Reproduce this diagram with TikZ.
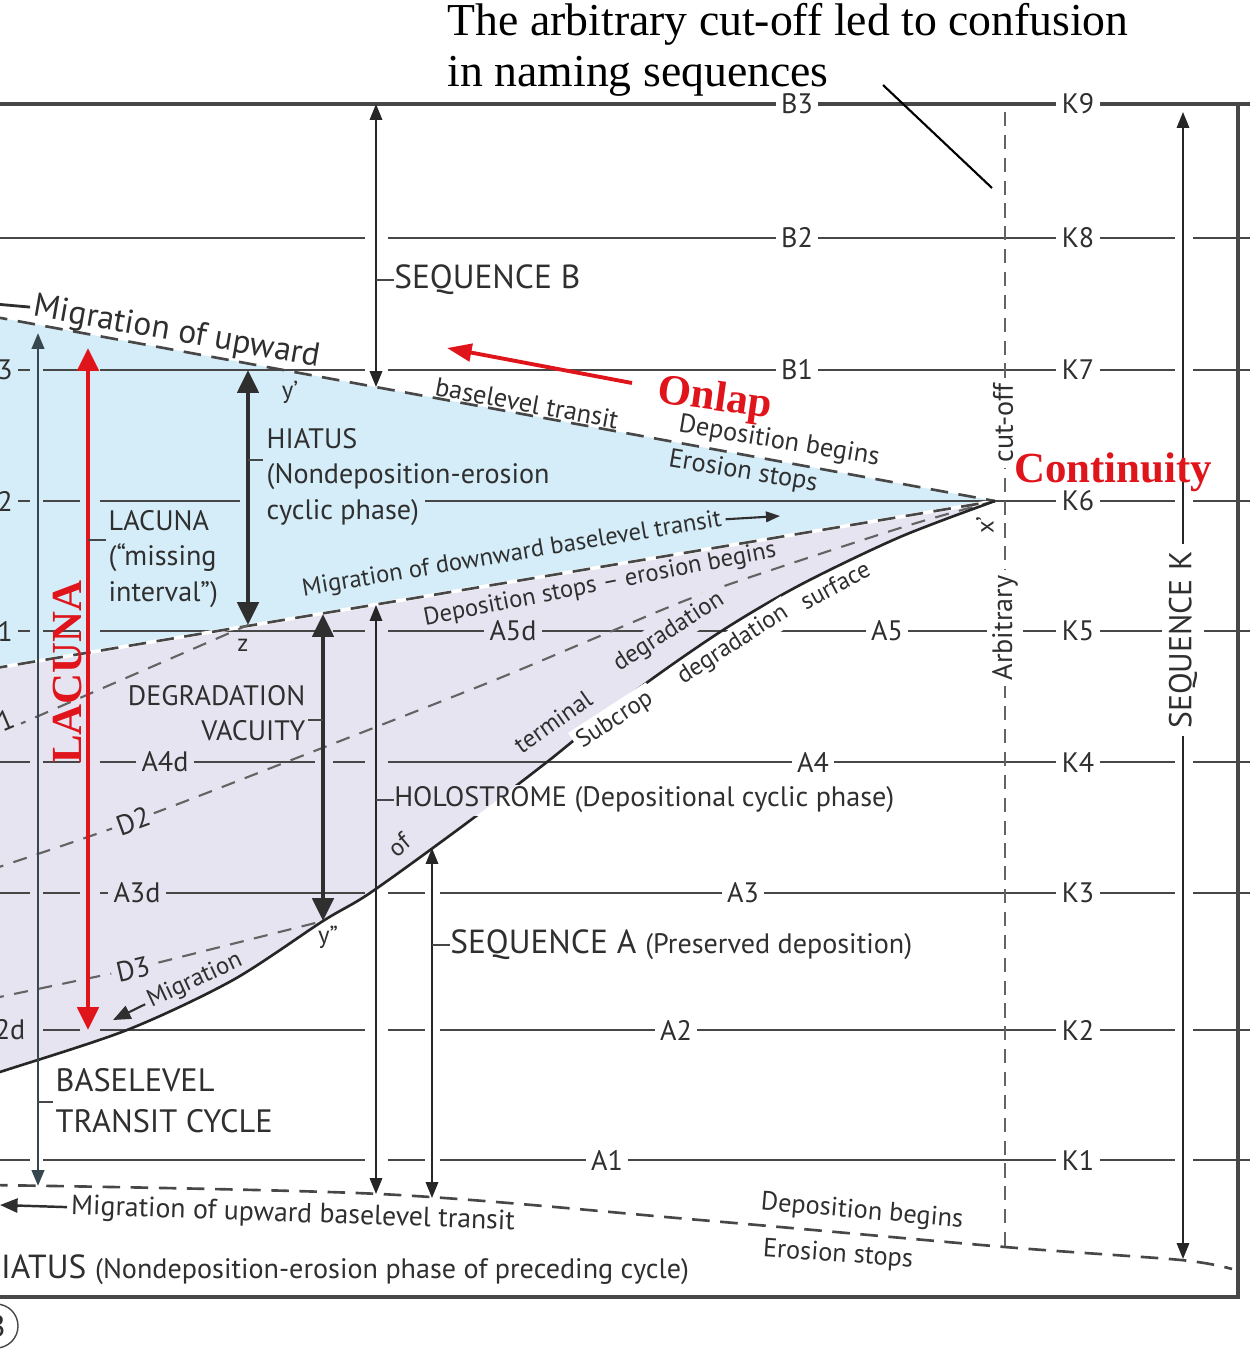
\documentclass[tikz,border=0pt]{standalone}
\usepackage{fontspec}
\setmainfont{Liberation Serif}
\newfontfamily\ptsans{PT Sans}
\usepackage{tikz}
\usetikzlibrary{arrows.meta}
\usetikzlibrary{calc,positioning}
\definecolor{hiablue}{HTML}{D5EDF8}
\definecolor{degviolet}{HTML}{E7E4F1}
\definecolor{lngray}{HTML}{474747}
\definecolor{txtgray}{HTML}{2F2F2F}
\definecolor{slate}{HTML}{36474F}
\definecolor{onred}{HTML}{E0141B}
\def\LblFont{\ptsans\fontsize{8}{9}\selectfont}
\def\TxtFont{\ptsans\fontsize{8}{10}\selectfont}
\def\SmlFont{\ptsans\fontsize{7}{8}\selectfont}
\def\SeqFont{\ptsans\fontsize{9.5}{11}\selectfont}
\newcommand\hseg[2]{\foreach \xa/\xb in {#2}{\draw[hline] (\xa,#1) -- (\xb,#1);}}
\tikzset{
	hline/.style={draw=lngray,line width=0.65pt},
	bound/.style={draw=lngray,line width=0.75pt,dash pattern=on 5pt off 3pt},
	dline/.style={draw=lngray!85,line width=0.6pt,dash pattern=on 4pt off 3pt},
	subc/.style={draw=black!85,line width=0.75pt},
	lnlab/.style={font=\LblFont,text=txtgray,fill=white,inner sep=1.5pt},
	txt/.style={font=\TxtFont,text=txtgray,inner sep=0pt,align=left},
	sml/.style={font=\SmlFont,text=txtgray,inner sep=1pt},
	seqarr/.style={draw=black!85,line width=0.6pt,arrows={Triangle[length=4.5pt,width=3.5pt]-Triangle[length=4.5pt,width=3.5pt]}},
	fatarr/.style={draw=txtgray,line width=1.2pt,arrows={Triangle[length=6.5pt,width=6pt]-Triangle[length=6.5pt,width=6pt]}},
	redarr/.style={draw=onred,line width=1.3pt,arrows={Triangle[length=6.5pt,width=6pt]-Triangle[length=6.5pt,width=6pt]}},
	redlab/.style={font=\bfseries\fontsize{12.2}{14}\selectfont,text=onred,inner sep=0pt},
}

\begin{document}
\begin{tikzpicture}[x=0.01cm,y=-0.01cm]
	\useasboundingbox (0,0) rectangle (1250,1363);
	\clip (0,0) rectangle (1250,1363);
	% 
	\coordinate (xp) at (995,501);
	\coordinate (yp) at (283,370);
	\coordinate (ypp) at (323,921);
	\coordinate (zz) at (248,625);
	\coordinate (tl) at (-10,316);
	\coordinate (ml) at (-10,669);
	% hiatus wedge and degradation vacuity
	\fill[hiablue] (tl) -- (xp) -- (ml) -- cycle;
	\fill[degviolet] (ml) -- (xp) -- plot[smooth] coordinates {(995,501) (900,537) (800,585) (720,632) (630,695) (547,762) (460,828) (370,893) (323,921) (233,980) (127,1030) (0,1072) (-10,1076)} -- cycle;
	% time lines
	\draw[hline,line width=0.9pt] (0,104) -- (1250,104);
	\hseg{238}{0/365,388/1175,1193/1250}
	\hseg{370}{0/30,43/80,100/365,388/1175,1193/1250}
	\hseg{501}{0/30,43/80,100/240,425/1175,1193/1250}
	\hseg{631}{0/30,43/80,100/315,333/365,388/1175,1193/1250}
	\hseg{762}{0/30,43/80,100/315,333/365,388/1175,1193/1250}
	\hseg{893}{0/30,43/80,100/365,388/425,440/1175,1193/1250}
	\hseg{1030}{0/30,43/80,100/365,388/425,440/1175,1193/1250}
	\hseg{1160}{0/30,43/365,388/425,440/1175,1193/1250}
	\draw[hline,line width=0.9pt] (0,1297) -- (1238,1297) -- (1238,104);
	% baselevel transit surfaces
	\draw[white,line width=1pt] (ml) -- (xp);
	\draw[bound] (ml) -- (xp);
	\draw[bound] (tl) -- (xp);
	\draw[dline] (-10,737) -- (zz);
	\draw[dline] plot[smooth] coordinates {(-10,870) (133,821) (317,750) (490,682) (600,636) (713,590) (900,528) (995,501)};
	\draw[dline] (-10,999) -- (133,969) -- (ypp);
	\begin{scope}
		\clip (0,0) rectangle (1250,784);
		\draw[subc] plot[smooth] coordinates {(995,501) (900,537) (800,585) (720,632) (630,695) (547,762) (460,828) (370,893) (323,921) (233,980) (127,1030) (0,1072) (-10,1076)};
	\end{scope}
	\begin{scope}
		\clip (0,816) rectangle (1250,1363);
		\draw[subc] plot[smooth] coordinates {(995,501) (900,537) (800,585) (720,632) (630,695) (547,762) (460,828) (370,893) (323,921) (233,980) (127,1030) (0,1072) (-10,1076)};
	\end{scope}
	\draw[bound] plot[smooth] coordinates {(-10,1185) (380,1194) (700,1220) (1005,1247) (1181,1260) (1232,1269)};
	% arbitrary cut-off
	\coordinate (cutT) at (1005,112);
	\coordinate (cutB) at (1005,1248);
	\draw[draw=lngray!85,line width=0.75pt,dash pattern=on 4pt off 2.5pt] (cutT) -- (cutB);
	% vertical arrows
	\coordinate (btcT) at (38,333);
	\coordinate (btcB) at (38,1186);
	\draw[seqarr,draw=slate,line width=0.8pt] (btcT) -- (btcB);
	\coordinate (lacT) at (88,348);
	\coordinate (lacB) at (88,1030);
	\draw[redarr] (lacT) -- (lacB);
	\coordinate (hiaT) at (248,370);
	\draw[fatarr] (hiaT) -- (zz);
	\coordinate (vacT) at (323,614);
	\draw[fatarr] (vacT) -- (ypp);
	\coordinate (sqbT) at (376,104);
	\coordinate (sqbB) at (376,387);
	\draw[seqarr] (sqbT) -- (sqbB);
	\coordinate (holT) at (376,605);
	\coordinate (holB) at (376,1194);
	\draw[seqarr] (holT) -- (holB);
	\coordinate (sqaT) at (432,848);
	\coordinate (sqaB) at (432,1198);
	\draw[seqarr] (sqaT) -- (sqaB);
	\coordinate (sqkT) at (1183,112);
	\coordinate (sqkB) at (1183,1259);
	\draw[seqarr] (sqkT) -- (sqkB);
	% time line labels
	\node[lnlab] (b3) at (797,104) {B3};
	\node[lnlab] (b2) at (797,238) {B2};
	\node[lnlab] (b1) at (797,370) {B1};
	\node[lnlab] (k9) at (1078,104) {K9};
	\node[lnlab] (k8) at (1078,238) {K8};
	\node[lnlab] (k7) at (1078,370) {K7};
	\node[lnlab] (k6) at (1078,501) {K6};
	\node[lnlab] (k5) at (1078,631) {K5};
	\node[lnlab] (k4) at (1078,762) {K4};
	\node[lnlab] (k3) at (1078,893) {K3};
	\node[lnlab] (k2) at (1078,1030) {K2};
	\node[lnlab] (k1) at (1078,1160) {K1};
	\node[lnlab] (a5) at (887,631) {A5};
	\node[lnlab] (a4) at (813,762) {A4};
	\node[lnlab] (a3) at (743,893) {A3};
	\node[lnlab] (a2) at (676,1030) {A2};
	\node[lnlab] (a1) at (607,1160) {A1};
	\node[lnlab,fill=degviolet] (a5d) at (513,631) {A5d};
	\node[lnlab,fill=degviolet] (a4d) at (165,762) {A4d};
	\node[lnlab,fill=degviolet] (a3d) at (137,893) {A3d};
	\node[lnlab,fill=hiablue] (l3) at (5,370) {3};
	\node[lnlab,fill=hiablue] (l2) at (5,501) {2};
	\node[lnlab,fill=hiablue] (l1) at (5,631) {1};
	\node[lnlab,fill=degviolet] (l2d) at (10,1030) {2d};
	\node[lnlab,fill=degviolet,rotate=23] (d1) at (-3,724) {D1};
	\node[lnlab,fill=degviolet,rotate=20] (d2) at (133,821) {D2};
	\node[lnlab,fill=degviolet,rotate=13] (d3) at (133,969) {D3};
	\node[lnlab,rotate=90] (cutoff) at (1003,423) {cut-off};
	\node[lnlab,rotate=90] (arbit) at (1005,628) {Arbitrary};
	\node[lnlab,font=\ptsans\fontsize{9}{10}\selectfont,rotate=90,inner sep=2pt] (seqk) at (1183,640) {SEQUENCE K};
	% points
	\node[sml] (ypl) at (290,392) {y’};
	\node[sml] (zl) at (243,645) {z};
	\node[sml] (yppl) at (328,937) {y”};
	\node[sml,rotate=90] (xpl) at (985,525) {x’};
	% phases
	\coordinate (sqbK) at (376,280);
	\node[font=\SeqFont,text=txtgray,inner sep=0pt,right=5pt of sqbK] (seqb) {SEQUENCE B};
	\draw[hline] (sqbK) -- (seqb);
	\coordinate (holK) at (376,800);
	\node[txt,right=5pt of holK] (holo) {HOLOSTROME (Depositional cyclic phase)};
	\draw[hline] (holK) -- (holo);
	\coordinate (sqaK) at (432,945);
	\node[font=\SeqFont,text=txtgray,inner sep=0pt,right=5pt of sqaK] (seqa) {SEQUENCE A {\TxtFont(Preserved deposition)}};
	\draw[hline] (sqaK) -- (seqa);
	\coordinate (hiaK) at (248,460);
	\node[txt,anchor=north west] (hiat) at (266,428) {HIATUS\\(Nondeposition-erosion\\cyclic phase)};
	\draw[hline] (hiaK) -- ++(15,0);
	\coordinate (lacK) at (88,540);
	\node[txt,anchor=north west] (lacu) at (108,510) {LACUNA\\(“missing\\interval”)};
	\draw[hline] (lacK) -- ++(18,0);
	\coordinate (vacK) at (323,720);
	\node[txt,anchor=north east,align=right] (vacu) at (306,685) {DEGRADATION\\VACUITY};
	\draw[hline] (vacK) -- ++(-15,0);
	\coordinate (btcK) at (38,1102);
	\node[txt,font=\ptsans\fontsize{9.2}{11.5}\selectfont,anchor=north west] (btc) at (55,1068) {BASELEVEL\\TRANSIT CYCLE};
	\draw[hline] (btcK) -- ++(15,0);
	% surface annotations
	\node[sml,font=\ptsans\fontsize{9.5}{11}\selectfont,rotate=-10] (mupt) at (177,333) {Migration of upward};
	\coordinate (muptH) at (-5,304);
	\draw[txtgray,line width=0.8pt] (mupt.west) -- (muptH);
	\node[sml,font=\ptsans\fontsize{7.5}{9}\selectfont,rotate=-10.5] (bltr) at (527,403) {baselevel transit};
	\node[sml,font=\ptsans\fontsize{7.5}{9}\selectfont,rotate=-9.5] (depb) at (779,442) {Deposition begins};
	\node[sml,font=\ptsans\fontsize{7.5}{9}\selectfont,rotate=-9.5] (eros) at (743,472) {Erosion stops};
	\node[sml,rotate=9.5] (mdown) at (512,555) {Migration of downward baselevel transit};
	\coordinate (mdownH) at (780,516);
	\draw[txtgray,line width=0.6pt,-{Triangle[length=4pt,width=3pt]}] (mdown.east) -- (mdownH);
	\node[sml,rotate=11] (dstop) at (600,585) {Deposition stops – erosion begins};
	\node[sml,fill=degviolet,rotate=33] (degr) at (669,632) {degradation};
	\node[sml,rotate=35] (term) at (553,722) {terminal};
	\node[sml,rotate=40] (ofl) at (399,845) {of};
	\node[sml,rotate=25] (mterm) at (195,981) {Migration};
	\coordinate (mtermH) at (113,1020);
	\draw[txtgray,line width=0.6pt,-{Triangle[length=5pt,width=4pt]}] (mterm.west) -- (mtermH);
	\node[sml,fill=white,rotate=33] (subcr) at (615,720) {Subcrop};
	\node[sml,fill=white,rotate=33] (degr2) at (733,645) {degradation};
	\node[sml,fill=white,rotate=28] (surf) at (835,585) {surface};
	\node[sml,font=\ptsans\fontsize{7.9}{9}\selectfont,rotate=-2] (mupb) at (293,1215) {Migration of upward baselevel transit};
	\coordinate (mupbH) at (0,1205);
	\draw[txtgray,line width=0.7pt,-{Triangle[length=5pt,width=4pt]}] (mupb.west) -- (mupbH);
	\node[sml,font=\ptsans\fontsize{7.5}{9}\selectfont,rotate=-5] (depb2) at (862,1212) {Deposition begins};
	\node[sml,font=\ptsans\fontsize{7.5}{9}\selectfont,rotate=-4] (eros2) at (838,1255) {Erosion stops};
	\node[anchor=base west,inner sep=0pt,text=txtgray,font=\SeqFont] (hiab) at (-22,1278) {HIATUS {\TxtFont(Nondeposition-erosion phase of preceding cycle)}};
	\node[draw=lngray,circle,minimum size=0.44cm,inner sep=0pt,font=\ptsans\fontsize{9}{10}\selectfont,text=txtgray] (panel) at (-4,1326) {B};
	% red notes
	\node[redlab,rotate=90] (lacred) at (68,672) {LACUNA};
	\node[redlab,rotate=-8] (onlap) at (715,400) {Onlap};
	\coordinate (onlT) at (632,383);
	\coordinate (onlH) at (447,348);
	\draw[onred,line width=1.1pt,-{Triangle[length=7pt,width=5pt]}] (onlT) -- (onlH);
	\node[redlab] (cont) at (1113,472) {Continuity};
	% cut-off note
	\node[anchor=north west,align=left,inner sep=0pt,font=\fontsize{13}{14.5}\selectfont] (note) at (447,3) {The arbitrary cut-off led to confusion\\in naming sequences};
	\coordinate (ptrA) at (883,85);
	\coordinate (ptrB) at (992,188);
	\draw[black,line width=0.6pt] (ptrA) -- (ptrB);
\end{tikzpicture}
\end{document}
